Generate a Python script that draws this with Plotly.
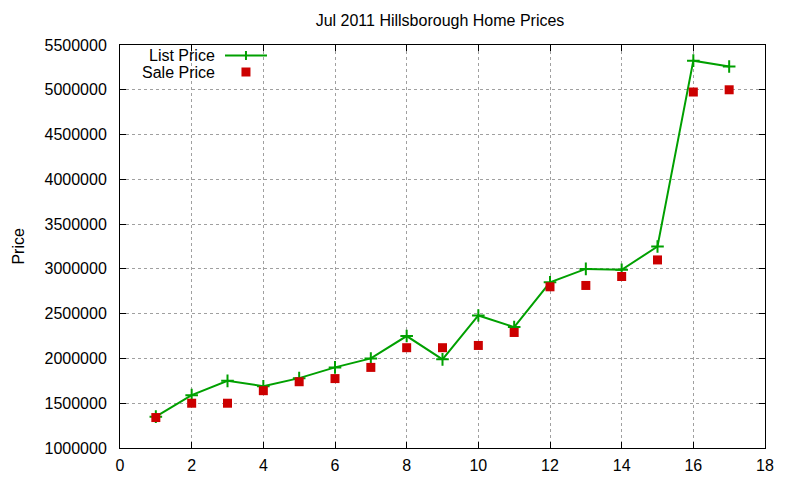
import plotly.graph_objects as go

# Jul 2011 Hillsborough home prices
house = list(range(1, 18))
list_price = [1350000, 1590000, 1750000, 1690000, 1780000, 1900000, 2000000,
              2250000, 1990000, 2480000, 2350000, 2850000, 3000000, 2990000,
              3250000, 5325000, 5260000]
sale_price = [1340000, 1500000, 1500000, 1640000, 1740000, 1775000, 1900000,
              2120000, 2120000, 2145000, 2290000, 2800000, 2815000, 2915000,
              3100000, 4975000, 5000000]

x_ticks = list(range(0, 19, 2))
y_ticks = list(range(1000000, 5500001, 500000))

green = "#00a000"
red = "#cc0000"
FONT = 16

fig = go.Figure()
fig.add_trace(go.Scatter(
    x=house, y=list_price, mode="lines+markers", name="List Price",
    line=dict(color=green, width=2),
    marker=dict(symbol="cross-thin", size=9, line=dict(color=green, width=2)),
))
fig.add_trace(go.Scatter(
    x=house, y=sale_price, mode="markers", name="Sale Price",
    marker=dict(symbol="square", size=9, color=red),
))

# gnuplot-style key: label on the left, sample on the right
key_x_text = 0.1504
key_x0, key_x1, key_xm = 0.1628, 0.2279, 0.1953
key_y = [0.974, 0.933]
fig.add_annotation(text="List Price", xref="paper", yref="paper",
                   x=key_x_text, y=key_y[0], xanchor="right", yanchor="middle",
                   showarrow=False, font=dict(size=FONT))
fig.add_annotation(text="Sale Price", xref="paper", yref="paper",
                   x=key_x_text, y=key_y[1], xanchor="right", yanchor="middle",
                   showarrow=False, font=dict(size=FONT))
fig.add_shape(type="line", xref="paper", yref="paper",
              x0=key_x0, x1=key_x1, y0=key_y[0], y1=key_y[0],
              line=dict(color=green, width=2))
fig.add_shape(type="line", xref="paper", yref="paper", ysizemode="pixel",
              x0=key_xm, x1=key_xm, yanchor=key_y[0], y0=-4.5, y1=4.5,
              line=dict(color=green, width=2))
fig.add_shape(type="rect", xref="paper", yref="paper",
              xsizemode="pixel", ysizemode="pixel",
              xanchor=key_xm, yanchor=key_y[1], x0=-4.5, x1=4.5, y0=-4.5, y1=4.5,
              fillcolor=red, line=dict(width=0))

# y axis title placed like gnuplot's, far left
fig.add_annotation(text="Price", xref="paper", yref="paper",
                   x=-0.158, y=0.5, xanchor="center", yanchor="middle",
                   textangle=-90, showarrow=False, font=dict(size=FONT))

axis_style = dict(
    showline=True, linecolor="black", linewidth=1, mirror="allticks",
    ticks="inside", ticklen=6, tickcolor="black",
    showgrid=True, gridcolor="#a0a0a0", griddash="dot", gridwidth=1,
    zeroline=False, tickfont=dict(size=FONT, color="black"),
)

fig.update_xaxes(range=[0, 18], tickvals=x_ticks, ticklabelstandoff=3,
                 **axis_style)
fig.update_yaxes(range=[1000000, 5500000], tickvals=y_ticks, tickformat="d",
                 ticklabelstandoff=9, **axis_style)

# the page body adds an 8px offset, so margins are shifted to compensate
fig.update_layout(
    width=800, height=480,
    margin=dict(l=112, r=43, t=37, b=40),
    paper_bgcolor="white", plot_bgcolor="white",
    font=dict(family="Liberation Sans, Arial, sans-serif", color="black", size=FONT),
    title=dict(text="Jul 2011 Hillsborough Home Prices", x=0.54, xanchor="center",
               xref="container", y=0.975, yanchor="middle", font=dict(size=FONT)),
    showlegend=False,
)

fig.write_html("out.html")
